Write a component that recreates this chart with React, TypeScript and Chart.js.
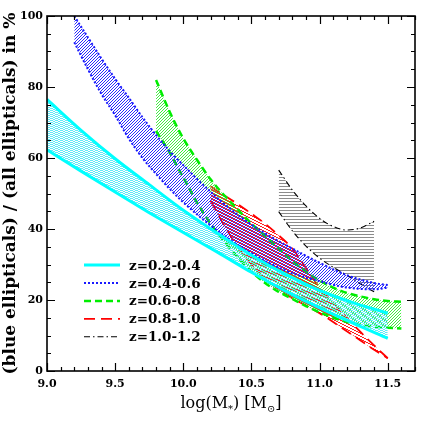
import { useEffect, useRef } from "react";
import { Chart, registerables } from "chart.js";
Chart.register(...registerables);

// ---- data ----
const zBins = ["z=0.2-0.4", "z=0.4-0.6", "z=0.6-0.8", "z=0.8-1.0", "z=1.0-1.2"];

const cyanMass = [9.0, 9.25, 9.5, 9.75, 10.0, 10.25, 10.5, 10.75, 11.0, 11.25, 11.5];
const cyanHigh = [76.5, 67.8, 59.8, 52.5, 45.3, 38.8, 32.6, 27.2, 22.7, 19.2, 16.3];
const cyanLow = [62.3, 56.3, 50.4, 44.6, 39.0, 33.5, 27.8, 22.5, 17.8, 13.4, 9.2];

const blueMass = [9.2, 9.3, 9.4, 9.5, 9.6, 9.7, 9.8, 9.9, 10.0, 10.2, 10.4, 10.6, 10.8, 11.0, 11.2, 11.4, 11.5];
const blueHigh = [100, 94, 88, 82.3, 77, 71.5, 66.5, 62, 58, 50.5, 44, 38.8, 34.5, 30.5, 27, 24.8, 24.2];
const blueLow = [92.6, 85, 78, 72, 65.5, 60, 55.5, 51.3, 47.5, 41, 35.5, 31, 27.5, 25.3, 23.5, 23, 23.5];

const greenMass = [9.8, 9.9, 10.0, 10.1, 10.2, 10.3, 10.4, 10.5, 10.6, 10.7, 10.8, 10.9, 11.0, 11.1, 11.2, 11.3, 11.4, 11.5, 11.6];
const greenHigh = [82, 73, 65.5, 59.5, 54, 49.5, 45.5, 41.5, 38, 34.5, 31, 28, 25.5, 23.5, 22, 21, 20.2, 19.7, 19.5];
const greenLow = [67.6, 61.5, 54.5, 47.5, 41.5, 36.5, 32, 28, 24.8, 22.3, 20.3, 18.3, 16.5, 15, 13.8, 13, 12.5, 12.2, 12];

const redMass = [10.2, 10.3, 10.4, 10.5, 10.6, 10.7, 10.8, 10.9, 11.0, 11.1, 11.2, 11.3, 11.4, 11.5];
const redHigh = [52, 49.5, 47, 44.3, 41.5, 38.2, 34.5, 29, 23.5, 19.2, 15, 11, 7.2, 3.6];
const redLow = [48, 41, 35, 30, 26, 23, 20.5, 18.5, 16.3, 13.8, 11.2, 8.6, 6, 3.6];

const blackMass = [10.7, 10.8, 10.9, 11.0, 11.1, 11.2, 11.3, 11.4];
const blackHigh = [56.6, 51, 46.5, 43, 40.7, 39.7, 40.3, 42.2];
const blackLow = [44.9, 39.5, 35.2, 31.8, 29.2, 27, 24.5, 22.3];

const xTicksMajor = 0.5;
const xTicksMinor = 0.1;
const yTicksMajor = 20;
const yTicksMinor = 5;

// ---- styles ----
type Hatch = { color: string; w: number; h: number; kind: string; t: number };
type Band = {
  label: string; mass: number[]; high: number[]; low: number[];
  color: string; dash: number[]; width: number; hatch: Hatch;
};

const bands: Band[] = [
  { label: zBins[0], mass: cyanMass, high: cyanHigh, low: cyanLow, color: "#00ffff", dash: [], width: 3,
    hatch: { color: "#60eaf8", w: 5, h: 2, kind: "down", t: 1 } },
  { label: zBins[1], mass: blueMass, high: blueHigh, low: blueLow, color: "#1a1aff", dash: [2, 2], width: 2,
    hatch: { color: "#2a2aff", w: 3, h: 3, kind: "up", t: 1 } },
  { label: zBins[2], mass: greenMass, high: greenHigh, low: greenLow, color: "#00ee00", dash: [7, 4], width: 2.5,
    hatch: { color: "#40ee40", w: 3, h: 3, kind: "up", t: 1 } },
  { label: zBins[3], mass: redMass, high: redHigh, low: redLow, color: "#ff0000", dash: [11, 6], width: 1.8,
    hatch: { color: "#ff2020", w: 6, h: 3, kind: "down", t: 1 } },
  { label: zBins[4], mass: blackMass, high: blackHigh, low: blackLow, color: "#000000", dash: [6, 3, 1.5, 3], width: 1.1,
    hatch: { color: "#8c8c8c", w: 1, h: 3, kind: "horiz", t: 1 } },
];

function makeHatch(hs: Hatch) {
  const { color, w, h, kind, t } = hs;
  const c = document.createElement("canvas");
  c.width = w; c.height = h;
  const g = c.getContext("2d")!;
  g.fillStyle = color;
  for (let x = 0; x < w; x++) {
    let yy = 0;
    if (kind === "down") yy = Math.floor((x * h) / w);
    else if (kind === "up") yy = h - 1 - Math.floor((x * h) / w);
    for (let k = 0; k < t; k++) g.fillRect(x, (yy + k) % h, 1, 1);
  }
  return g.createPattern(c, "repeat")!;
}

const SERIF = '"DejaVu Serif", serif';

const framePlugin = {
  id: "frameTicks",
  afterDraw(chart: any) {
    const { ctx, chartArea: a, scales } = chart;
    const x = scales.x, y = scales.y;
    ctx.save();
    ctx.strokeStyle = "#000";
    ctx.lineWidth = 1.2;
    ctx.beginPath();
    const nx = Math.round((x.max - x.min) / xTicksMinor);
    const per = Math.round(xTicksMajor / xTicksMinor);
    for (let i = 0; i <= nx; i++) {
      const v = x.min + i * xTicksMinor;
      const px = Math.round(x.getPixelForValue(v)) + 0.5;
      const len = i % per === 0 ? 8 : 4;
      ctx.moveTo(px, a.bottom); ctx.lineTo(px, a.bottom - len);
      ctx.moveTo(px, a.top); ctx.lineTo(px, a.top + len);
    }
    const ny = Math.round((y.max - y.min) / yTicksMinor);
    const perY = Math.round(yTicksMajor / yTicksMinor);
    for (let i = 0; i <= ny; i++) {
      const v = y.min + i * yTicksMinor;
      const py = Math.round(y.getPixelForValue(v)) + 0.5;
      const len = i % perY === 0 ? 8 : 4;
      ctx.moveTo(a.left, py); ctx.lineTo(a.left + len, py);
      ctx.moveTo(a.right, py); ctx.lineTo(a.right - len, py);
    }
    ctx.stroke();
    ctx.lineWidth = 1.6;
    ctx.strokeRect(a.left, a.top, a.right - a.left, a.bottom - a.top);

    // x axis title with subscripts
    const parts = [
      { t: "log(M", sub: false }, { t: "*", sub: true }, { t: ") [M", sub: false },
      { t: "\u2299", sub: true }, { t: "]", sub: false },
    ];
    const big = `16px ${SERIF}`, small = `10px ${SERIF}`;
    let total = 0;
    const widths = parts.map((p) => { ctx.font = p.sub ? small : big; const w = ctx.measureText(p.t).width; total += w; return w; });
    let cx = (a.left + a.right) / 2 - total / 2;
    const base = a.bottom + 37;
    ctx.fillStyle = "#000";
    ctx.textBaseline = "alphabetic";
    ctx.textAlign = "left";
    parts.forEach((p, i) => {
      ctx.font = p.sub ? small : big;
      ctx.fillText(p.t, cx, p.sub ? base + 4 : base);
      cx += widths[i];
    });
    ctx.restore();
  },
};

const legendPlugin = {
  id: "bandLegend",
  afterDatasetsDraw(chart: any) {
    const { ctx, chartArea: a } = chart;
    ctx.save();
    const x0 = a.left + 37, x1 = x0 + 36, tx = x1 + 9;
    bands.forEach((b, i) => {
      const yy = a.bottom - 34.3 - (bands.length - 1 - i) * 17.9;
      ctx.strokeStyle = b.color; ctx.lineWidth = b.width; ctx.setLineDash(b.dash);
      ctx.beginPath(); ctx.moveTo(x0, yy); ctx.lineTo(x1, yy); ctx.stroke();
      ctx.setLineDash([]);
      ctx.fillStyle = "#000";
      ctx.font = `bold 13.5px ${SERIF}`;
      ctx.textBaseline = "middle";
      ctx.fillText(b.label, tx, yy + 1);
    });
    ctx.restore();
  },
};

export default function App() {
  const ref = useRef<HTMLCanvasElement | null>(null);
  useEffect(() => {
    document.body.style.margin = "0";
    const datasets: any[] = [];
    bands.forEach((b) => {
      const common = {
        borderColor: b.color, borderWidth: b.width, borderDash: b.dash,
        pointRadius: 0, cubicInterpolationMode: "monotone", borderCapStyle: "butt",
      };
      datasets.push({ ...common, label: b.label, data: b.mass.map((m, i) => ({ x: m, y: b.high[i] })), fill: false });
      datasets.push({
        ...common, label: b.label + " low", data: b.mass.map((m, i) => ({ x: m, y: b.low[i] })),
        fill: "-1", backgroundColor: makeHatch(b.hatch),
      });
    });
    const chart = new Chart(ref.current!, {
      type: "line",
      data: { datasets },
      options: {
        animation: false,
        responsive: false,
        layout: { padding: { left: 0, right: 16, top: 16, bottom: 0 } },
        plugins: { legend: { display: false }, tooltip: { enabled: false } },
        scales: {
          x: {
            type: "linear", min: 9, max: 11.7,
            grid: { display: false, drawTicks: false }, border: { display: false },
            ticks: { stepSize: xTicksMajor, includeBounds: false, padding: 7, color: "#000", maxRotation: 0,
              font: { family: SERIF, weight: "bold", size: 11 } },
            afterFit: (s: any) => { s.height = 60; },
          },
          y: {
            min: 0, max: 100,
            grid: { display: false, drawTicks: false }, border: { display: false },
            ticks: { stepSize: yTicksMajor, padding: 4, color: "#000",
              font: { family: SERIF, weight: "bold", size: 11 } },
            title: { display: true, text: "(blue ellipticals) / (all ellipticals) in %", color: "#000",
              font: { family: SERIF, size: 17, weight: "bold" }, padding: { top: 0, bottom: 0 } },
            afterFit: (s: any) => { s.width = 47; },
          },
        },
      } as any,
      plugins: [framePlugin, legendPlugin],
    });
    return () => chart.destroy();
  }, []);
  return (
    <div style={{ width: 431, height: 431 }}>
      <canvas ref={ref} width={431} height={431} />
    </div>
  );
}
